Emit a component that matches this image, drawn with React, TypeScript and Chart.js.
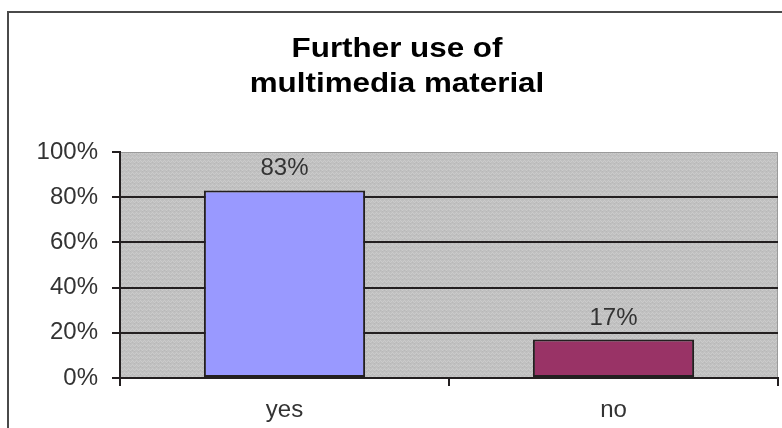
import React, { useEffect, useRef } from 'react';
import { Chart, registerables } from 'chart.js';

Chart.register(...registerables);

const categories = ['yes', 'no'];
const values = [83, 17];
const barColors = ['#9999ff', '#993366'];
const yTicks = [0, 20, 40, 60, 80, 100];
const titleLines = ['Further use of', 'multimedia material'];

const FONT = "'Liberation Sans', Arial, sans-serif";
const DARK = '#231f20';

function makePattern(ctx: CanvasRenderingContext2D): CanvasPattern | string {
  const c = document.createElement('canvas');
  c.width = 8;
  c.height = 8;
  const p = c.getContext('2d');
  if (!p) return '#c0c0c0';
  p.fillStyle = '#c0c0c0';
  p.fillRect(0, 0, 8, 8);
  p.fillStyle = '#cbcbcb';
  const pts = [
    [0, 0], [1, 1], [2, 2], [3, 1], [4, 0], [5, 1], [6, 2], [7, 1],
    [0, 4], [1, 5], [2, 6], [3, 5], [4, 4], [5, 5], [6, 6], [7, 5],
  ];
  pts.forEach(([x, y]) => p.fillRect(x, y, 1, 1));
  p.fillStyle = '#b8b8b8';
  const pts2 = [[2, 3], [6, 3], [2, 7], [6, 7], [0, 2], [4, 6]];
  pts2.forEach(([x, y]) => p.fillRect(x, y, 1, 1));
  return ctx.createPattern(c, 'repeat') || '#c0c0c0';
}

const backgroundPlugin = {
  id: 'bgFrame',
  beforeDraw(chart: any) {
    const { ctx, chartArea, width, height } = chart;
    ctx.save();
    ctx.fillStyle = '#ffffff';
    ctx.fillRect(0, 0, width, height);
    ctx.strokeStyle = '#4a4a4a';
    ctx.lineWidth = 2;
    ctx.strokeRect(8, 12, width + 20, height + 20);
    ctx.fillStyle = makePattern(ctx);
    ctx.fillRect(chartArea.left, chartArea.top, chartArea.right - chartArea.left, chartArea.bottom - chartArea.top);
    ctx.strokeStyle = '#9a9a9a';
    ctx.lineWidth = 1;
    ctx.beginPath();
    ctx.moveTo(chartArea.left, chartArea.top + 0.5);
    ctx.lineTo(chartArea.right - 0.5, chartArea.top + 0.5);
    ctx.lineTo(chartArea.right - 0.5, chartArea.bottom);
    ctx.stroke();
    ctx.restore();
  },
};

const titlePlugin = {
  id: 'twoLineTitle',
  afterDraw(chart: any) {
    const { ctx } = chart;
    ctx.save();
    ctx.fillStyle = '#000000';
    ctx.font = `bold 28px ${FONT}`;
    ctx.textAlign = 'center';
    ctx.textBaseline = 'alphabetic';
    const cx = 397;
    const baselines = [57, 92];
    titleLines.forEach((line, i) => {
      ctx.save();
      ctx.translate(cx, baselines[i]);
      ctx.scale(1.12, 1);
      ctx.fillText(line, 0, 0);
      ctx.restore();
    });
    ctx.restore();
  },
};

const labelPlugin = {
  id: 'barValueLabels',
  afterDatasetsDraw(chart: any) {
    const { ctx } = chart;
    const meta = chart.getDatasetMeta(0);
    ctx.save();
    ctx.fillStyle = '#333333';
    ctx.font = `24px ${FONT}`;
    ctx.textAlign = 'center';
    ctx.textBaseline = 'alphabetic';
    meta.data.forEach((bar: any, i: number) => {
      ctx.fillText(`${values[i]}%`, bar.x, bar.y - 15);
    });
    ctx.restore();
  },
};

export default function App() {
  const ref = useRef<HTMLCanvasElement | null>(null);

  useEffect(() => {
    if (!ref.current) return;
    const chart = new Chart(ref.current, {
      type: 'bar',
      data: {
        labels: categories,
        datasets: [
          {
            data: values,
            backgroundColor: barColors,
            borderColor: DARK,
            borderWidth: 2,
            borderSkipped: false,
            categoryPercentage: 1,
            barPercentage: 0.49,
          },
        ],
      },
      options: {
        animation: false,
        responsive: false,
        maintainAspectRatio: false,
        layout: { padding: { left: 0, top: 152, right: 4, bottom: 0 } },
        plugins: {
          legend: { display: false },
          title: { display: false },
          tooltip: { enabled: false },
        },
        scales: {
          x: {
            afterFit(scale: any) {
              scale.height = 50;
            },
            border: { display: true, color: DARK, width: 2 },
            grid: {
              offset: true,
              drawOnChartArea: false,
              drawTicks: true,
              tickLength: 8,
              tickColor: DARK,
              tickWidth: 2,
              lineWidth: 2,
            },
            ticks: {
              color: '#333333',
              font: { family: FONT, size: 24 },
              padding: 10,
            },
          },
          y: {
            min: yTicks[0],
            max: yTicks[yTicks.length - 1],
            afterFit(scale: any) {
              scale.width = 120;
            },
            border: { display: true, color: DARK, width: 2 },
            grid: {
              color: (c: any) =>
                c.tick && (c.tick.value === yTicks[yTicks.length - 1] || c.tick.value === yTicks[0])
                  ? 'rgba(0,0,0,0)'
                  : DARK,
              lineWidth: 2,
              drawTicks: true,
              tickLength: 8,
              tickColor: DARK,
              tickWidth: 2,
            },
            ticks: {
              stepSize: yTicks[1] - yTicks[0],
              color: '#333333',
              font: { family: FONT, size: 24 },
              padding: 14,
              callback: (v: any) => `${v}%`,
            },
          },
        },
      },
      plugins: [backgroundPlugin, titlePlugin, labelPlugin],
    });
    return () => chart.destroy();
  }, []);

  return (
    <div style={{ position: 'absolute', left: 0, top: 0, width: 782, height: 428, overflow: 'hidden' }}>
      <canvas ref={ref} width={782} height={428} style={{ display: 'block', width: 782, height: 428 }} />
    </div>
  );
}
